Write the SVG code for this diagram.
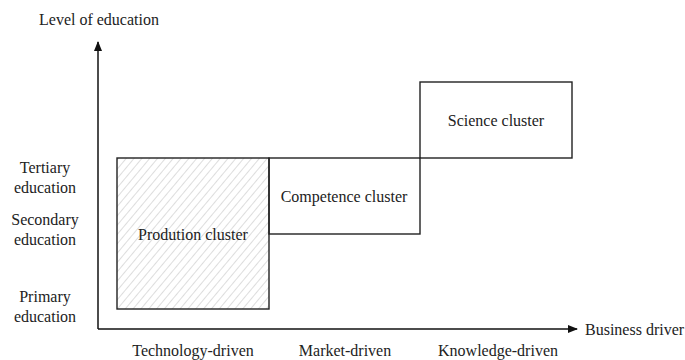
<svg xmlns="http://www.w3.org/2000/svg" width="685" height="360" viewBox="0 0 685 360">
<style>
text{font-family:"Liberation Serif","Times New Roman",serif;font-size:16px;fill:#222}
.box{fill:none;stroke:#222;stroke-width:1.4}
.ax{stroke:#111;stroke-width:1.5;fill:none}
</style>
<defs>
<pattern id="hatch" patternUnits="userSpaceOnUse" width="6" height="6" patternTransform="rotate(40)">
<line x1="0" y1="0" x2="0" y2="6" stroke="#aaa" stroke-width="0.8"/>
</pattern>
<marker id="arr" markerWidth="10" markerHeight="8" refX="9" refY="4" orient="auto" markerUnits="userSpaceOnUse">
<path d="M0,0 L10,4 L0,8 z" fill="#111"/>
</marker>
</defs>
<g id="connectors">
<path class="ax" d="M98,329 L98,42" marker-end="url(#arr)"/>
<path class="ax" d="M98,329 L577,329" marker-end="url(#arr)"/>
</g>
<g id="production">
<rect x="117" y="158" width="152" height="151" class="box" style="fill:url(#hatch)"/>
<text x="193" y="240" text-anchor="middle">Prodution cluster</text>
</g>
<g id="competence">
<rect x="269" y="158" width="151" height="76" class="box"/>
<text x="344" y="202" text-anchor="middle">Competence cluster</text>
</g>
<g id="science">
<rect x="420" y="82" width="152" height="76" class="box"/>
<text x="496" y="126" text-anchor="middle">Science cluster</text>
</g>
<g id="labels">
<text x="39" y="25">Level of education</text>
<text x="45" y="173" text-anchor="middle">Tertiary</text>
<text x="45" y="193" text-anchor="middle">education</text>
<text x="45" y="225" text-anchor="middle">Secondary</text>
<text x="45" y="245" text-anchor="middle">education</text>
<text x="45" y="302" text-anchor="middle">Primary</text>
<text x="45" y="322" text-anchor="middle">education</text>
<text x="585" y="335">Business driver</text>
<text x="193" y="356" text-anchor="middle">Technology-driven</text>
<text x="345" y="356" text-anchor="middle">Market-driven</text>
<text x="498" y="356" text-anchor="middle">Knowledge-driven</text>
</g>
</svg>
